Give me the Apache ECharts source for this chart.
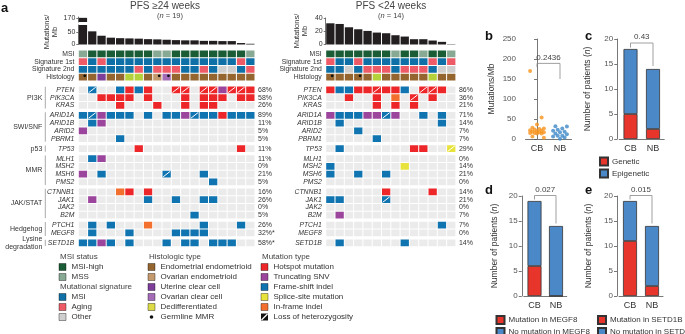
<!DOCTYPE html>
<html>
<head>
<meta charset="utf-8">
<script src="https://cdn.jsdelivr.net/npm/echarts@6/dist/echarts.min.js"></script>
<style>
html,body{margin:0;padding:0;background:#fff;}
#chart{width:685px;height:334px;}
</style>
</head>
<body>
<div id="chart"></div>
<script>
// ---------- data ----------
// tumour mutational burden, one bar per patient (also used for panel b)
var tmbCB = [170, 54, 36, 28, 26, 25, 24, 22, 21, 19.5, 18, 17, 17, 15, 15, 14, 14, 6, 3];
var tmbNB = [32, 31, 26, 23, 20.5, 18, 17, 14, 12, 8, 8, 6, 4, 0.5];

// annotation tracks: MSI (H high / S stable), signatures (M msi / A aging / O other),
// histology (E endometrial endometrioid, V ovarian endometrioid, U uterine clear cell,
// C ovarian clear cell, D dedifferentiated)
var annotRows = ['MSI', 'Signature 1st', 'Signature 2nd', 'Histology'];
var annotCB = ['SHHHHHHHSSHHHHHHHHS', 'AMAMMMMMMMMMMMMMMAM', 'MMMMMMAMAAAMMAMOOMA', 'EEUEEDDEVCEEEEEEEEE'];
var annotNB = ['HHHHHHHSHHSHHS', 'AMMAMMMMMMMAMA', 'MMOMAAAMAAAMOO', 'EEEEEDEEEEEDEE'];
var germlineCB = [0, 8, 9];
var germlineNB = [0, 3];

var pathways = ['PI3K', 'SWI/SNF', 'p53', 'MMR', 'JAK/STAT', 'Hedgehog', 'Lysine\ndegradation'];
var pathwayGenes = [
  ['PTEN', 'PIK3CA', 'KRAS'],
  ['ARID1A', 'ARID1B', 'ARID2', 'PBRM1'],
  ['TP53'],
  ['MLH1', 'MSH2', 'MSH6', 'PMS2'],
  ['CTNNB1', 'JAK1', 'JAK2', 'B2M'],
  ['PTCH1', 'MEGF8'],
  ['SETD1B']
];
// alterations: H hotspot, T truncating SNV, F frame-shift, S splice-site, I in-frame; lower case = with LOH
var altCB = [
  '.f..FHFH..hh.hhThhH',
  '..HHHH.H...H.HHH.HH',
  '....H...H..H.HH....',
  'FfTFFF.F.FFTfFFHFFF',
  '.FT................',
  'T..................',
  '....F..............',
  '......H..........H.',
  '.FT................',
  '...................',
  'T.F......f...F.....',
  '..............F....',
  '....IH.H...........',
  '.T.....F..F..FF....',
  '...................',
  '............F......',
  '.F.F...I.....F...F.',
  '.F...F....FFFF.....',
  'FFTF.F...F.FF.FFF..'
];
var altNB = [
  'HFFHHhHHF.hhH.',
  '..H..H.I.h.H..',
  '.....H.H.H....',
  'TFFFTTfT..F.F.',
  '.F..........F.',
  '...F..........',
  '.....F........',
  '.F.......HH..s',
  '..............',
  'F.......S.....',
  'F..F..F.......',
  '..............',
  '......H....H..',
  'FF....f.......',
  '..............',
  '.T............',
  '............F.',
  '..............',
  '.F......F.....'
];
var starredCB = ['MEGF8', 'SETD1B'];

// panels c-e: patients per group [CB, NB]
var groupsCE = ['CB', 'NB'];
var genetic = [5, 2], epigenetic = [13, 12];
var megf8Mut = [6, 0], megf8No = [13, 14];
var setd1bMut = [11, 2], setd1bNo = [8, 12];
var pValues = ['0.2436', '0.43', '0.027', '0.015'];

// ---------- styles ----------
var FONT = '"Liberation Sans", Arial, sans-serif';
var TXT = '#333';
var GRAY = '#ebebeb';
var msiCol = {H: '#1a5c36', S: '#88a993'};
var sigCol = {M: '#0f70a8', A: '#ee5b67', O: '#cfcfcf'};
var histCol = {E: '#94652e', V: '#c49a6c', U: '#7c3e99', C: '#a46cb6', D: '#b6d23a'};
var mutCol = {H: '#ec2629', T: '#9c459c', F: '#0f74b0', S: '#e8e33c', I: '#f26f2e'};
var RED = '#e8352b', BLUE = '#4a88c7';

// ---------- oncoprint layout ----------
var rows = [];
var pos = 0;
annotRows.forEach(function (n, i) { rows.push({name: n, pos: pos, annot: i}); pos += 1; });
pos += 0.645;
var groups = [];
var gi = 0;
pathwayGenes.forEach(function (genes, g) {
  if (g > 0) pos += 0.29;
  var start = pos;
  genes.forEach(function (gene) { rows.push({name: gene, pos: pos, gene: gi}); gi++; pos += 1; });
  groups.push({name: pathways[g], start: start, end: pos});
});
var totalUnits = pos;
var ROWPX = 7.75;

function buildCells(annot, alt, germ) {
  var cells = [];
  var n = annot[0].length;
  rows.forEach(function (r) {
    for (var c = 0; c < n; c++) {
      var color, loh = false, dot = false, ch;
      if (r.annot !== undefined) {
        ch = annot[r.annot][c];
        color = [msiCol, sigCol, sigCol, histCol][r.annot][ch];
        if (r.annot === 3 && germ.indexOf(c) >= 0) dot = true;
      } else {
        ch = alt[r.gene][c];
        if (ch === '.') color = GRAY;
        else { loh = ch !== ch.toUpperCase(); color = mutCol[ch.toUpperCase()]; }
      }
      cells.push({col: c, pos: r.pos, color: color, loh: loh, dot: dot});
    }
  });
  return cells;
}
function buildLabels(alt, n, starred) {
  return rows.map(function (r) {
    var o = {name: r.name, pos: r.pos, n: n, gene: r.gene !== undefined};
    if (o.gene) {
      var cnt = alt[r.gene].replace(/\./g, '').length;
      o.pct = Math.round(cnt / n * 100) + '%' + (starred.indexOf(r.name) >= 0 ? '*' : '');
    }
    return o;
  });
}
var cellsCB = buildCells(annotCB, altCB, germlineCB);
var cellsNB = buildCells(annotNB, altNB, germlineNB);
var labelsCB = buildLabels(altCB, annotCB[0].length, starredCB);
var labelsNB = buildLabels(altNB, annotNB[0].length, []);

function cellRender(cells) {
  return function (params, api) {
    var c = cells[params.dataIndex];
    var p0 = api.coord([c.col, c.pos]);
    var p1 = api.coord([c.col + 1, c.pos + 1]);
    var x = p0[0] + 0.5, y = p0[1] + 0.5, w = p1[0] - p0[0] - 1, h = p1[1] - p0[1] - 1;
    var ch = [{type: 'rect', shape: {x: x, y: y, width: w, height: h}, style: {fill: c.color}}];
    if (c.loh) ch.push({type: 'line', shape: {x1: x + 0.6, y1: y + h - 0.6, x2: x + w - 0.6, y2: y + 0.6}, style: {stroke: '#fff', lineWidth: 1}});
    if (c.dot) ch.push({type: 'circle', shape: {cx: x + w * 0.72, cy: y + h * 0.3, r: 1.4}, style: {fill: '#111'}});
    return {type: 'group', children: ch};
  };
}
function labelRender(labels) {
  return function (params, api) {
    var r = labels[params.dataIndex];
    var a = api.coord([0, r.pos + 0.5]);
    var b = api.coord([r.n, r.pos + 0.5]);
    var ch = [{type: 'text', x: a[0] - 4, y: a[1], style: {text: r.name, align: 'right', verticalAlign: 'middle', fontSize: 6.8, fontStyle: r.gene ? 'italic' : 'normal', fontFamily: FONT, fill: TXT}}];
    if (r.pct) ch.push({type: 'text', x: b[0] + 3, y: b[1], style: {text: r.pct, align: 'left', verticalAlign: 'middle', fontSize: 7, fontFamily: FONT, fill: TXT}});
    return {type: 'group', children: ch};
  };
}
function groupRender(params, api) {
  var g = groups[params.dataIndex];
  var t = api.coord([0, g.start + 0.1]), b = api.coord([0, g.end - 0.1]);
  var x = t[0] - 33;
  return {type: 'group', children: [
    {type: 'line', shape: {x1: x, y1: t[1], x2: x, y2: b[1]}, style: {stroke: '#aaa', lineWidth: 1}},
    {type: 'text', x: x - 3, y: (t[1] + b[1]) / 2, style: {text: g.name, align: 'right', verticalAlign: 'middle', fontSize: 7, lineHeight: 8.5, fontFamily: FONT, fill: TXT}}
  ]};
}
// bracket with p value: top level and tick ends in axis units
var brackets = [
  {p: pValues[0], top: 189, left: 180, right: 150},
  {p: pValues[1], top: 19.2, left: 18.3, right: 14.6},
  {p: pValues[2], top: 20.1, left: 19.3, right: 14.5},
  {p: pValues[3], top: 20.1, left: 19.3, right: 14.5}
];
function bracketRender(b) {
  return function (params, api) {
    var l0 = api.coord([0, b.top]), r0 = api.coord([1, b.top]);
    var l1 = api.coord([0, b.left]), r1 = api.coord([1, b.right]);
    return {type: 'group', children: [
      {type: 'polyline', shape: {points: [l1, l0, r0, r1]}, style: {stroke: '#888', lineWidth: 0.8, fill: null}},
      {type: 'text', x: (l0[0] + r0[0]) / 2, y: l0[1] - 2, style: {text: b.p, align: 'center', verticalAlign: 'bottom', fontSize: 8, fontFamily: FONT, fill: '#444'}}
    ]};
  };
}
function jitter(i) { return (((i * 5) % 7) - 3) / 3 * 0.3; }

// ---------- axes ----------
var AX = {color: '#555', width: 0.8};
function hiddenCat(grid, n) {
  var d = []; for (var i = 0; i < n; i++) d.push(i);
  return {gridIndex: grid, type: 'category', data: d, show: false};
}
function hiddenVal(grid, min, max, inverse) {
  return {gridIndex: grid, type: 'value', min: min, max: max, inverse: !!inverse, show: false, splitLine: {show: false}};
}
function tmbAxis(grid, min, max, ticks) {
  return {gridIndex: grid, type: 'value', min: min, max: max, splitLine: {show: false},
    axisLine: {show: true, lineStyle: AX},
    axisTick: {show: true, length: 2, lineStyle: AX, customValues: ticks},
    axisLabel: {fontSize: 7, color: TXT, margin: 3, customValues: ticks}};
}
function panelY(grid, max, interval, offset) {
  return {gridIndex: grid, type: 'value', min: 0, max: max, interval: interval, offset: offset,
    splitLine: {show: false}, axisLine: {show: true, lineStyle: AX},
    axisTick: {show: true, length: 3, lineStyle: AX},
    axisLabel: {fontSize: 8, color: '#555', margin: 4}};
}
function panelX(grid) {
  return {gridIndex: grid, type: 'category', data: groupsCE,
    axisLine: {lineStyle: AX}, axisTick: {alignWithLabel: true, length: 3, lineStyle: AX},
    axisLabel: {fontSize: 9, color: TXT, margin: 5}};
}

// ---------- graphic: titles, axis names, panel a legend ----------
var g = [];
function txt(x, y, s, o) {
  var st = {text: s, fill: TXT, fontSize: 8, fontFamily: FONT, align: 'left', textAlign: 'left', verticalAlign: 'middle', textVerticalAlign: 'middle'};
  for (var k in (o || {})) st[k] = o[k];
  return {type: 'text', x: x, y: y, style: st};
}
function center(o) { o = o || {}; o.align = 'center'; o.textAlign = 'center'; return o; }
[['a', 1, 8.5], ['b', 485, 36], ['c', 585, 36], ['d', 485, 190], ['e', 585, 190]].forEach(function (p) {
  g.push(txt(p[1], p[2], p[0], {fontSize: 13, fontWeight: 'bold', fill: '#111'}));
});
var nRich = {a: {fontSize: 7.5, fill: '#444', fontFamily: FONT}, i: {fontSize: 7.5, fontStyle: 'italic', fill: '#444', fontFamily: FONT}};
g.push(txt(165, 6, 'PFS \u226524 weeks', center({fontSize: 10, fill: '#444'})));
g.push(txt(170, 16, '{a|(}{i|n}{a| = ' + tmbCB.length + ')}', center({rich: nRich})));
g.push(txt(391, 6, 'PFS <24 weeks', center({fontSize: 10, fill: '#444'})));
g.push(txt(391, 16, '{a|(}{i|n}{a| = ' + tmbNB.length + ')}', center({rich: nRich})));
function rot(el) { el.rotation = Math.PI / 2; return el; }
g.push(rot(txt(51, 32, 'Mutations/\nMb', center({fontSize: 7.5, lineHeight: 8.5}))));
g.push(rot(txt(301, 31, 'Mutations/\nMb', center({fontSize: 7.5, lineHeight: 8.5}))));
g.push(rot(txt(492, 89, 'Mutations/Mb', center({fontSize: 8.5}))));
var npRich = {a: {fontSize: 8.5, fill: TXT, fontFamily: FONT}, i: {fontSize: 8.5, fontStyle: 'italic', fill: TXT, fontFamily: FONT}};
[[587.5, 89], [494.5, 246], [588.5, 246]].forEach(function (p) {
  g.push(rot(txt(p[0], p[1], '{a|Number of patients (}{i|n}{a|)}', center({rich: npRich}))));
});

var legendMSI = [['MSI-high', msiCol.H], ['MSS', msiCol.S]];
var legendSig = [['MSI', sigCol.M], ['Aging', sigCol.A], ['Other', sigCol.O]];
var legendHist = [['Endometrial endometrioid', histCol.E], ['Ovarian endometrioid', histCol.V], ['Uterine clear cell', histCol.U], ['Ovarian clear cell', histCol.C], ['Dedifferentiated', '#dcdb45'], ['Germline MMR', 'dot']];
var legendMut = [['Hotspot mutation', mutCol.H], ['Truncating SNV', mutCol.T], ['Frame-shift indel', mutCol.F], ['Splice-site mutation', mutCol.S], ['In-frame indel', mutCol.I], ['Loss of heterozygosity', 'loh']];
var legendCols = [
  {x: 59, blocks: [['MSI status', legendMSI], ['Mutational signature', legendSig]]},
  {x: 148, blocks: [['Histologic type', legendHist]]},
  {x: 261, blocks: [['Mutation type', legendMut]]}
];
legendCols.forEach(function (col) {
  var y = 257;
  col.blocks.forEach(function (bl) {
    g.push(txt(col.x + 1, y, bl[0], {fill: '#444'}));
    y += 10;
    bl[1].forEach(function (it) {
      if (it[1] === 'dot') {
        g.push({type: 'circle', shape: {cx: col.x + 3.5, cy: y, r: 1.8}, style: {fill: '#111'}});
      } else if (it[1] === 'loh') {
        g.push({type: 'rect', shape: {x: col.x, y: y - 3.5, width: 7, height: 7}, style: {fill: '#111'}});
        g.push({type: 'line', shape: {x1: col.x + 0.5, y1: y + 3, x2: col.x + 6.5, y2: y - 3}, style: {stroke: '#fff', lineWidth: 1.2}});
      } else {
        g.push({type: 'rect', shape: {x: col.x, y: y - 3.5, width: 7, height: 7}, style: {fill: it[1], stroke: 'rgba(0,0,0,0.55)', lineWidth: 0.7}});
      }
      g.push(txt(col.x + 12.5, y, it[0]));
      y += 10;
    });
  });
});

// ---------- option ----------
var ncb = tmbCB.length, nnb = tmbNB.length;
var LB = 78.3, RB = 325.7, CW = 9.3;
var option = {
  animation: false,
  textStyle: {fontFamily: FONT},
  grid: [
    {left: LB, top: 25, width: ncb * CW, height: 19.5},
    {left: LB, top: 17, width: ncb * CW, height: 5},
    {left: RB, top: 18, width: nnb * CW, height: 26.5},
    {left: LB, top: 50, width: ncb * CW, height: totalUnits * ROWPX},
    {left: RB, top: 50, width: nnb * CW, height: totalUnits * ROWPX},
    {left: 525.5, top: 39, width: 46, height: 100},
    {left: 619.25, top: 39, width: 45, height: 100},
    {left: 523.75, top: 196, width: 43, height: 100},
    {left: 619, top: 196, width: 44, height: 100}
  ],
  xAxis: [
    hiddenCat(0, ncb), hiddenCat(1, ncb), hiddenCat(2, nnb),
    hiddenVal(3, 0, ncb), hiddenVal(4, 0, nnb),
    panelX(5), hiddenVal(5, -0.5, 1.5),
    panelX(6), panelX(7), panelX(8)
  ],
  yAxis: [
    tmbAxis(0, 0, 80, [0, 50]),
    tmbAxis(1, 160, 172, [170]),
    tmbAxis(2, 0, 40, [0, 20, 40]),
    hiddenVal(3, 0, totalUnits, true),
    hiddenVal(4, 0, totalUnits, true),
    panelY(5, 250, 50, 5.5),
    panelY(6, 20, 5, 2),
    panelY(7, 20, 5, 2),
    panelY(8, 20, 5, 2)
  ],
  legend: [
    {data: ['Genetic', 'Epigenetic'], left: 599, top: 156.5},
    {data: ['Mutation in MEGF8', 'No mutation in MEGF8'], left: 495.5, top: 315},
    {data: ['Mutation in SETD1B', 'No mutation in SETD1B'], left: 597, top: 315}
  ].map(function (l) {
    l.orient = 'vertical'; l.itemWidth = 8; l.itemHeight = 8; l.itemGap = 2; l.icon = 'rect';
    l.selectedMode = false; l.padding = 0; l.height = 40; l.width = 90;
    l.textStyle = {fontSize: 8, lineHeight: 8, color: TXT, fontFamily: FONT, padding: [0, 0, 0, -1]};
    return l;
  }),
  graphic: {elements: g},
  series: [
    {type: 'bar', xAxisIndex: 0, yAxisIndex: 0, data: tmbCB, barCategoryGap: '11%', itemStyle: {color: '#231f20'}},
    {type: 'bar', xAxisIndex: 1, yAxisIndex: 1, data: tmbCB.map(function (v) { return v > 80 ? v : '-'; }), barCategoryGap: '11%', itemStyle: {color: '#231f20'}},
    {type: 'bar', xAxisIndex: 2, yAxisIndex: 2, data: tmbNB, barCategoryGap: '11%', itemStyle: {color: '#231f20'}},
    {type: 'custom', xAxisIndex: 3, yAxisIndex: 3, renderItem: cellRender(cellsCB), data: cellsCB.map(function (c) { return [c.col, c.pos]; })},
    {type: 'custom', xAxisIndex: 4, yAxisIndex: 4, renderItem: cellRender(cellsNB), data: cellsNB.map(function (c) { return [c.col, c.pos]; })},
    {type: 'custom', xAxisIndex: 3, yAxisIndex: 3, renderItem: labelRender(labelsCB), data: labelsCB.map(function (r) { return [0, r.pos]; })},
    {type: 'custom', xAxisIndex: 4, yAxisIndex: 4, renderItem: labelRender(labelsNB), data: labelsNB.map(function (r) { return [0, r.pos]; })},
    {type: 'custom', xAxisIndex: 3, yAxisIndex: 3, renderItem: groupRender, data: groups.map(function (gr) { return [0, gr.start]; })},
    // panel b
    {type: 'scatter', xAxisIndex: 6, yAxisIndex: 5, symbolSize: 4, itemStyle: {color: '#f7941d'},
      data: tmbCB.map(function (v, i) { return [jitter(i), v]; })},
    {type: 'scatter', xAxisIndex: 6, yAxisIndex: 5, symbolSize: 4, itemStyle: {color: '#3f88c8'},
      data: tmbNB.map(function (v, i) { return [1 + jitter(i + 3), v]; })},
    {type: 'custom', xAxisIndex: 5, yAxisIndex: 5, renderItem: bracketRender(brackets[0]), data: [[0, brackets[0].top]]},
    // panel c
    {name: 'Genetic', type: 'bar', xAxisIndex: 7, yAxisIndex: 6, stack: 'c', barWidth: 14, data: genetic, itemStyle: {color: RED, borderColor: '#333', borderWidth: 0.8}},
    {name: 'Epigenetic', type: 'bar', xAxisIndex: 7, yAxisIndex: 6, stack: 'c', barWidth: 14, data: epigenetic, itemStyle: {color: BLUE, borderColor: '#333', borderWidth: 0.8}},
    {type: 'custom', xAxisIndex: 7, yAxisIndex: 6, renderItem: bracketRender(brackets[1]), data: [[0, brackets[1].top]]},
    // panel d
    {name: 'Mutation in MEGF8', type: 'bar', xAxisIndex: 8, yAxisIndex: 7, stack: 'd', barWidth: 14, data: megf8Mut, itemStyle: {color: RED, borderColor: '#333', borderWidth: 0.8}},
    {name: 'No mutation in MEGF8', type: 'bar', xAxisIndex: 8, yAxisIndex: 7, stack: 'd', barWidth: 14, data: megf8No, itemStyle: {color: BLUE, borderColor: '#333', borderWidth: 0.8}},
    {type: 'custom', xAxisIndex: 8, yAxisIndex: 7, renderItem: bracketRender(brackets[2]), data: [[0, brackets[2].top]]},
    // panel e
    {name: 'Mutation in SETD1B', type: 'bar', xAxisIndex: 9, yAxisIndex: 8, stack: 'e', barWidth: 14, data: setd1bMut, itemStyle: {color: RED, borderColor: '#333', borderWidth: 0.8}},
    {name: 'No mutation in SETD1B', type: 'bar', xAxisIndex: 9, yAxisIndex: 8, stack: 'e', barWidth: 14, data: setd1bNo, itemStyle: {color: BLUE, borderColor: '#333', borderWidth: 0.8}},
    {type: 'custom', xAxisIndex: 9, yAxisIndex: 8, renderItem: bracketRender(brackets[3]), data: [[0, brackets[3].top]]}
  ]
};
var chart = echarts.init(document.getElementById('chart'), null, {renderer: 'canvas'});
chart.setOption(option);
</script>
</body>
</html>
